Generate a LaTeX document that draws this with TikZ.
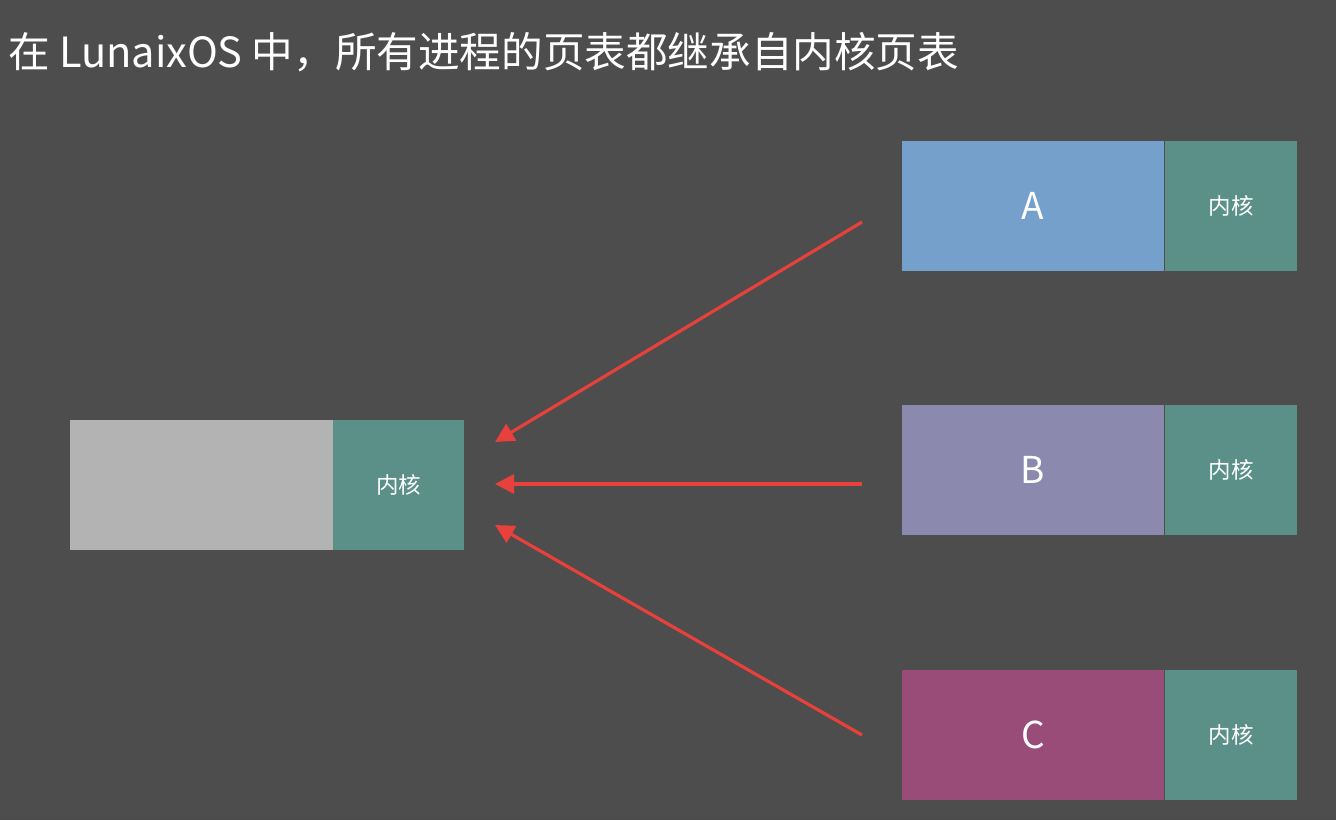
\documentclass[tikz,border=0pt]{standalone}
\usepackage{fontspec}
\setmainfont{Noto Sans CJK SC}
\usetikzlibrary{arrows.meta}
\definecolor{bg}{HTML}{4D4D4D}
\definecolor{blueA}{HTML}{75A0CB}
\definecolor{purpleB}{HTML}{8B89AD}
\definecolor{magC}{HTML}{9A4C78}
\definecolor{kteal}{HTML}{5A9088}
\definecolor{lgray}{HTML}{B3B3B3}
\definecolor{arrred}{HTML}{E8403A}
\begin{document}
\begin{tikzpicture}[x=1pt,y=-1pt,
  blk/.style={anchor=north west,inner sep=0pt,outer sep=0pt,minimum height=130pt,text=white},
  userpart/.style={blk,minimum width=262pt,font=\fontsize{37}{40}\selectfont},
  kernpart/.style={blk,fill=kteal,minimum width=132pt,font=\fontsize{22.5}{26}\selectfont},
  inherit/.style={draw=arrred,line width=3.2pt,-{Triangle[length=19pt,width=19pt]}}]
\fill[bg] (0,0) rectangle (1336,820);
\useasboundingbox (0,0) rectangle (1336,820);
\node[anchor=west,text=white,inner sep=0pt,font=\fontsize{41.6}{46}\selectfont] (title) at (8,52) {在 LunaixOS 中，所有进程的页表都继承自内核页表};
% shared kernel table
\node[blk,fill=lgray,minimum width=263pt] (base) at (70,420) {};
\node[kernpart,minimum width=131pt] (basek) at (333,420) {内核};
% processes
\node[userpart,fill=blueA] (A) at (902,141) {A};
\node[kernpart] (Ak) at (1165,141) {内核};
\node[userpart,fill=purpleB] (B) at (902,405) {B};
\node[kernpart] (Bk) at (1165,405) {内核};
\node[userpart,fill=magC] (C) at (902,670) {C};
\node[kernpart] (Ck) at (1165,670) {内核};
% arrow endpoints
\coordinate (sA) at (862,222);
\coordinate (sB) at (862,484);
\coordinate (sC) at (862,735);
\coordinate (eA) at (495,442);
\coordinate (eB) at (495,484);
\coordinate (eC) at (495,525);
\draw[inherit] (sA) -- (eA);
\draw[inherit] (sB) -- (eB);
\draw[inherit] (sC) -- (eC);
\end{tikzpicture}
\end{document}
